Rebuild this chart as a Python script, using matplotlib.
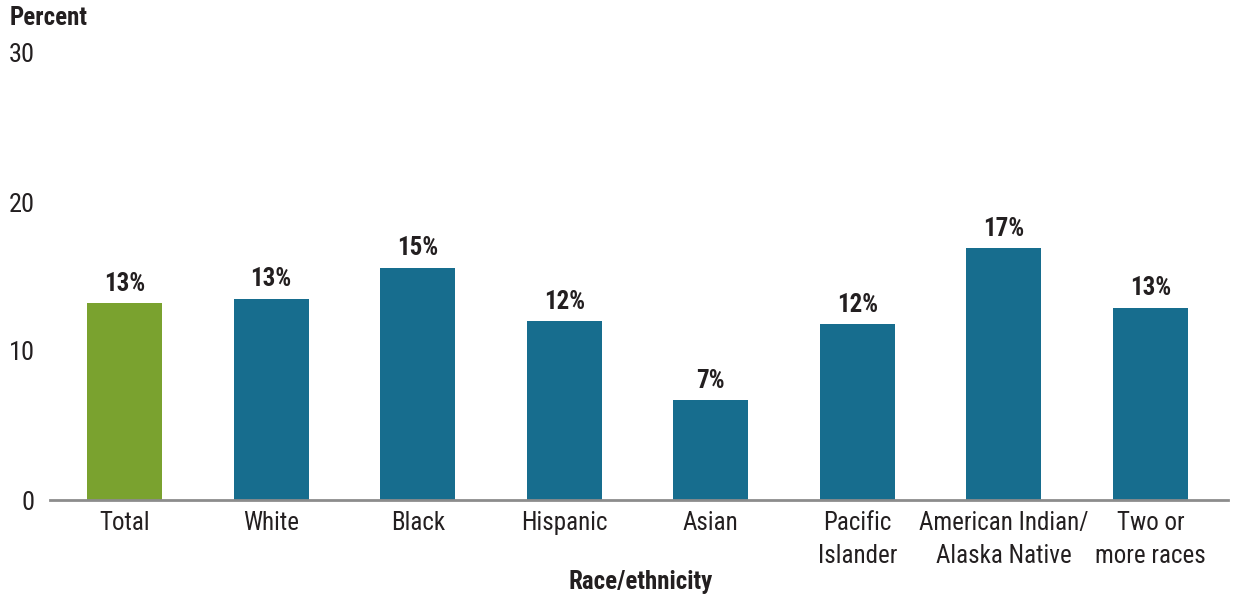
import matplotlib.pyplot as plt
from matplotlib import font_manager

categories = ['Total', 'White', 'Black', 'Hispanic', 'Asian', 'Pacific\nIslander',
              'American Indian/\nAlaska Native', 'Two or\nmore races']
values = [13.2, 13.5, 15.6, 12.0, 6.7, 11.8, 16.9, 12.9]
labels = ['13%', '13%', '15%', '12%', '7%', '12%', '17%', '13%']
colors = ['#7aa22f'] + ['#176d8e'] * 7
yticks = [0, 10, 20, 30]

names = {f.name for f in font_manager.fontManager.ttflist}
fam = 'Liberation Sans'
for cand in ['Roboto Condensed', 'Liberation Sans Narrow', 'Open Sans Condensed']:
    if cand in names:
        fam = cand
        break
narrow = fam != 'Liberation Sans'
fs = 18 if narrow else 16
plt.rcParams['font.family'] = [fam, 'DejaVu Sans']
txt = '#231f20'

fig = plt.figure(figsize=(12.33, 5.96), dpi=100)
ax = fig.add_axes([50 / 1233, 96 / 596, 1178 / 1233, 447 / 596])

x = range(len(categories))
ax.bar(x, values, width=0.51, color=colors, zorder=2)
for xi, v, lab in zip(x, values, labels):
    ax.text(xi, v + 0.5, lab, ha='center', va='bottom', fontsize=fs,
            fontweight='bold', color=txt)

ax.set_xlim(-0.51, 7.53)
ax.set_ylim(0, 30)
ax.set_yticks(yticks)
ax.set_xticks(list(x))
ax.set_xticklabels(categories, fontsize=fs, color=txt, linespacing=1.45)
ax.tick_params(axis='both', length=0, colors=txt)
ax.tick_params(axis='y', pad=11, labelsize=fs + 1)
ax.tick_params(axis='x', pad=8)

for s in ['top', 'right', 'left']:
    ax.spines[s].set_visible(False)
ax.spines['bottom'].set_color('#8c8c8c')
ax.spines['bottom'].set_linewidth(2)
ax.spines['bottom'].set_zorder(3)

fig.text(10 / 1233, 1 - 18 / 596, 'Percent', ha='left', va='center',
         fontsize=fs, fontweight='bold', color=txt)
fig.text(641 / 1233, 1 - 582 / 596, 'Race/ethnicity', ha='center', va='center',
         fontsize=fs, fontweight='bold', color=txt)

fig.savefig('out.png', dpi=100)
